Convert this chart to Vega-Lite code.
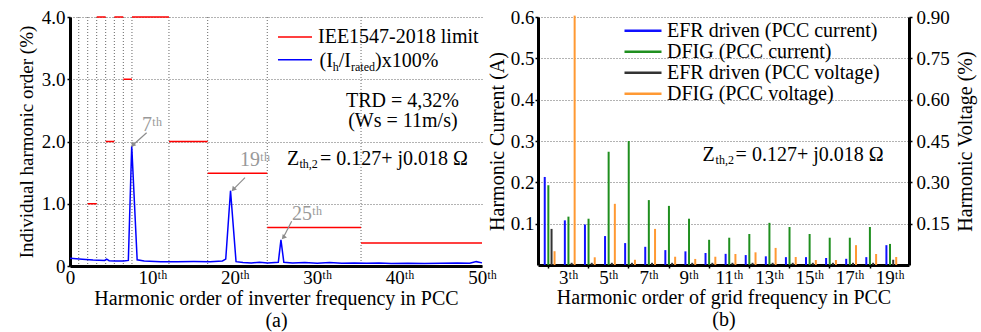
{
  "$schema": "https://vega.github.io/schema/vega-lite/v6.json",
  "background": "white",
  "padding": {"left": 16, "top": 8, "right": 4, "bottom": 2},
  "bounds": "flush",
  "spacing": 56,
  "config": {
    "font": "Liberation Serif",
    "view": {"stroke": null},
    "axis": {
      "labelFont": "Liberation Serif", "titleFont": "Liberation Serif",
      "labelFontSize": 19, "titleFontSize": 20, "titleFontWeight": "normal",
      "labelColor": "black", "titleColor": "black",
      "domainColor": "black", "domainWidth": 3,
      "tickColor": "black", "tickWidth": 1.5,
      "gridColor": "#666", "gridDash": [1, 2], "gridWidth": 1,
      "labelFlush": false, "labelOverlap": false
    },
    "text": {"font": "Liberation Serif"}
  },
  "datasets": {
    "vgrid": [{"x": 1.06}, {"x": 2.15}, {"x": 3.24}, {"x": 4.33}, {"x": 5.38}, {"x": 6.47}, {"x": 7.52}, {"x": 12.01}, {"x": 16.71}, {"x": 23.94}, {"x": 35.32}],
    "limits": [
      {"x": 2.15, "x2": 3.24, "y": 1.0},
      {"x": 3.24, "x2": 4.33, "y": 4.0},
      {"x": 4.33, "x2": 5.38, "y": 2.0},
      {"x": 5.38, "x2": 6.47, "y": 4.0},
      {"x": 6.47, "x2": 7.52, "y": 3.0},
      {"x": 7.52, "x2": 12.01, "y": 4.0},
      {"x": 12.01, "x2": 16.71, "y": 2.0},
      {"x": 16.71, "x2": 23.94, "y": 1.49},
      {"x": 23.94, "x2": 35.32, "y": 0.62},
      {"x": 35.32, "x2": 50, "y": 0.37}
    ],
    "ih": [
      {"x": 0, "y": 0.124}, {"x": 1.5, "y": 0.11}, {"x": 2.8, "y": 0.097}, {"x": 4.2, "y": 0.09}, {"x": 4.45, "y": 0.11}, {"x": 4.75, "y": 0.085},
      {"x": 5.5, "y": 0.08}, {"x": 6.5, "y": 0.08}, {"x": 7.08, "y": 0.09}, {"x": 7.49, "y": 1.93}, {"x": 8.15, "y": 0.1},
      {"x": 9, "y": 0.08}, {"x": 11, "y": 0.07}, {"x": 13, "y": 0.07}, {"x": 15, "y": 0.072}, {"x": 17, "y": 0.07}, {"x": 18.5, "y": 0.08},
      {"x": 18.9, "y": 0.11}, {"x": 19.48, "y": 1.21}, {"x": 20.15, "y": 0.07}, {"x": 21, "y": 0.055}, {"x": 22, "y": 0.05}, {"x": 23, "y": 0.06},
      {"x": 24, "y": 0.05}, {"x": 25.28, "y": 0.06}, {"x": 25.6, "y": 0.42}, {"x": 25.95, "y": 0.06}, {"x": 27, "y": 0.05}, {"x": 28.5, "y": 0.055},
      {"x": 30, "y": 0.045}, {"x": 31.5, "y": 0.055}, {"x": 33, "y": 0.045}, {"x": 34.5, "y": 0.05}, {"x": 36, "y": 0.045}, {"x": 37.5, "y": 0.05},
      {"x": 39, "y": 0.04}, {"x": 41, "y": 0.045}, {"x": 43, "y": 0.04}, {"x": 45, "y": 0.045}, {"x": 47, "y": 0.05}, {"x": 48.5, "y": 0.045},
      {"x": 49.3, "y": 0.07}, {"x": 50, "y": 0.05}
    ],
    "arrows": [
      {"x": 9.3, "y": 2.14, "x2": 7.61, "y2": 1.94},
      {"x": 21.24, "y": 1.42, "x2": 19.82, "y2": 1.23},
      {"x": 26.9, "y": 0.72, "x2": 25.89, "y2": 0.457}
    ],
    "heads": [
      {"x": 7.61, "y": 1.94},
      {"x": 19.82, "y": 1.23},
      {"x": 25.89, "y": 0.457}
    ],
    "peaks": [
      {"x": 8.74, "y": 2.26, "t": "7ᵗʰ"},
      {"x": 20.63, "y": 1.71, "t": "19ᵗʰ"},
      {"x": 26.94, "y": 0.83, "t": "25ᵗʰ"}
    ],
    "trd": [
      {"x": 40.35, "y": 2.55, "t": "TRD = 4,32%"},
      {"x": 40.4, "y": 2.23, "t": "(Ws = 11m/s)"}
    ],
    "harm": [
      {"h": 2, "s": "EFR driven (PCC current)", "v": 0.213}, {"h": 3, "s": "EFR driven (PCC current)", "v": 0.108},
      {"h": 4, "s": "EFR driven (PCC current)", "v": 0.098}, {"h": 5, "s": "EFR driven (PCC current)", "v": 0.07},
      {"h": 6, "s": "EFR driven (PCC current)", "v": 0.053}, {"h": 7, "s": "EFR driven (PCC current)", "v": 0.044},
      {"h": 8, "s": "EFR driven (PCC current)", "v": 0.036}, {"h": 9, "s": "EFR driven (PCC current)", "v": 0.033},
      {"h": 10, "s": "EFR driven (PCC current)", "v": 0.029}, {"h": 11, "s": "EFR driven (PCC current)", "v": 0.027},
      {"h": 12, "s": "EFR driven (PCC current)", "v": 0.024}, {"h": 13, "s": "EFR driven (PCC current)", "v": 0.021},
      {"h": 14, "s": "EFR driven (PCC current)", "v": 0.019}, {"h": 15, "s": "EFR driven (PCC current)", "v": 0.019},
      {"h": 16, "s": "EFR driven (PCC current)", "v": 0.017}, {"h": 17, "s": "EFR driven (PCC current)", "v": 0.015},
      {"h": 18, "s": "EFR driven (PCC current)", "v": 0.019}, {"h": 19, "s": "EFR driven (PCC current)", "v": 0.048},
      {"h": 2, "s": "DFIG (PCC current)", "v": 0.193}, {"h": 3, "s": "DFIG (PCC current)", "v": 0.117},
      {"h": 4, "s": "DFIG (PCC current)", "v": 0.112}, {"h": 5, "s": "DFIG (PCC current)", "v": 0.274},
      {"h": 6, "s": "DFIG (PCC current)", "v": 0.3}, {"h": 7, "s": "DFIG (PCC current)", "v": 0.157},
      {"h": 8, "s": "DFIG (PCC current)", "v": 0.143}, {"h": 9, "s": "DFIG (PCC current)", "v": 0.112},
      {"h": 10, "s": "DFIG (PCC current)", "v": 0.061}, {"h": 11, "s": "DFIG (PCC current)", "v": 0.066},
      {"h": 12, "s": "DFIG (PCC current)", "v": 0.075}, {"h": 13, "s": "DFIG (PCC current)", "v": 0.102},
      {"h": 14, "s": "DFIG (PCC current)", "v": 0.092}, {"h": 15, "s": "DFIG (PCC current)", "v": 0.075},
      {"h": 16, "s": "DFIG (PCC current)", "v": 0.066}, {"h": 17, "s": "DFIG (PCC current)", "v": 0.066},
      {"h": 18, "s": "DFIG (PCC current)", "v": 0.092}, {"h": 19, "s": "DFIG (PCC current)", "v": 0.051},
      {"h": 2, "s": "EFR driven (PCC voltage)", "v": 0.131}, {"h": 3, "s": "EFR driven (PCC voltage)", "v": 0.008},
      {"h": 4, "s": "EFR driven (PCC voltage)", "v": 0.008}, {"h": 5, "s": "EFR driven (PCC voltage)", "v": 0.008},
      {"h": 6, "s": "EFR driven (PCC voltage)", "v": 0.008}, {"h": 7, "s": "EFR driven (PCC voltage)", "v": 0.008},
      {"h": 8, "s": "EFR driven (PCC voltage)", "v": 0.008}, {"h": 9, "s": "EFR driven (PCC voltage)", "v": 0.008},
      {"h": 10, "s": "EFR driven (PCC voltage)", "v": 0.008}, {"h": 11, "s": "EFR driven (PCC voltage)", "v": 0.008},
      {"h": 12, "s": "EFR driven (PCC voltage)", "v": 0.008}, {"h": 13, "s": "EFR driven (PCC voltage)", "v": 0.008},
      {"h": 14, "s": "EFR driven (PCC voltage)", "v": 0.008}, {"h": 15, "s": "EFR driven (PCC voltage)", "v": 0.008},
      {"h": 16, "s": "EFR driven (PCC voltage)", "v": 0.008}, {"h": 17, "s": "EFR driven (PCC voltage)", "v": 0.008},
      {"h": 18, "s": "EFR driven (PCC voltage)", "v": 0.008}, {"h": 19, "s": "EFR driven (PCC voltage)", "v": 0.019},
      {"h": 2, "s": "DFIG (PCC voltage)", "v": 0.05}, {"h": 3, "s": "DFIG (PCC voltage)", "v": 0.905},
      {"h": 4, "s": "DFIG (PCC voltage)", "v": 0.028}, {"h": 5, "s": "DFIG (PCC voltage)", "v": 0.222},
      {"h": 6, "s": "DFIG (PCC voltage)", "v": 0.019}, {"h": 7, "s": "DFIG (PCC voltage)", "v": 0.131},
      {"h": 8, "s": "DFIG (PCC voltage)", "v": 0.03}, {"h": 9, "s": "DFIG (PCC voltage)", "v": 0.022},
      {"h": 10, "s": "DFIG (PCC voltage)", "v": 0.03}, {"h": 11, "s": "DFIG (PCC voltage)", "v": 0.04},
      {"h": 12, "s": "DFIG (PCC voltage)", "v": 0.046}, {"h": 13, "s": "DFIG (PCC voltage)", "v": 0.062},
      {"h": 14, "s": "DFIG (PCC voltage)", "v": 0.029}, {"h": 15, "s": "DFIG (PCC voltage)", "v": 0.018},
      {"h": 16, "s": "DFIG (PCC voltage)", "v": 0.018}, {"h": 17, "s": "DFIG (PCC voltage)", "v": 0.072},
      {"h": 18, "s": "DFIG (PCC voltage)", "v": 0.04}, {"h": 19, "s": "DFIG (PCC voltage)", "v": 0.029}
    ]
  },
  "hconcat": [
    {
      "width": 412,
      "height": 249,
      "layer": [
        {
          "data": {"name": "vgrid"},
          "mark": {"type": "rule", "color": "#666", "strokeDash": [1, 2], "strokeWidth": 1},
          "encoding": {"x": {"field": "x", "type": "quantitative", "scale": {"domain": [0, 50], "nice": false}}}
        },
        {
          "encoding": {
            "x": {"field": "x", "type": "quantitative", "scale": {"domain": [0, 50], "nice": false},
              "axis": {"title": ["Harmonic order of inverter frequency in PCC", "(a)"], "values": [0, 10, 20, 30, 40, 50],
                "labelExpr": "datum.value == 0 ? '0' : datum.value + 'ᵗʰ'", "grid": false, "ticks": false, "tickSize": 0,
                "labelPadding": 2, "titleY": 38, "titleBaseline": "alphabetic", "titleLineHeight": 22}},
            "y": {"field": "y", "type": "quantitative", "scale": {"domain": [0, 4], "nice": false},
              "axis": {"title": "Individual harmonic order (%)", "values": [0, 1, 2, 3, 4],
                "labelExpr": "datum.value == 0 ? '0' : format(datum.value, '.1f')", "grid": true, "tickSize": 3,
                "labelPadding": 2, "titleX": -44, "titleBaseline": "middle", "titleFontSize": 19}}
          },
          "layer": [
            {
              "data": {"name": "limits"},
              "mark": {"type": "rule", "color": "#ff0000", "strokeWidth": 1.5},
              "encoding": {"x2": {"field": "x2"}}
            },
            {
              "data": {"name": "ih"},
              "mark": {"type": "line", "color": "#0000ff", "strokeWidth": 1.5},
              "encoding": {}
            },
            {
              "data": {"name": "arrows"},
              "mark": {"type": "rule", "color": "#8c8c8c", "strokeWidth": 1.2},
              "encoding": {"x2": {"field": "x2"}, "y2": {"field": "y2"}}
            },
            {
              "data": {"name": "heads"},
              "mark": {"type": "point", "shape": "triangle-up", "filled": true, "color": "#8c8c8c", "size": 30, "angle": 220, "opacity": 1}
            },
            {
              "data": {"name": "peaks"},
              "mark": {"type": "text", "align": "left", "baseline": "middle", "fontSize": 20, "color": "#999999"},
              "encoding": {"text": {"field": "t"}}
            },
            {
              "data": {"name": "trd"},
              "mark": {"type": "text", "align": "center", "baseline": "alphabetic", "fontSize": 20, "color": "black"},
              "encoding": {"text": {"field": "t"}}
            },
            {
              "data": {"values": [{"x": 26.33, "y": 1.62}]},
              "mark": {"type": "text", "text": "Z", "align": "left", "baseline": "alphabetic", "fontSize": 20, "color": "black"}
            },
            {
              "data": {"values": [{"x": 26.33, "y": 1.62}]},
              "mark": {"type": "text", "text": "th,2", "align": "left", "baseline": "alphabetic", "fontSize": 12, "dx": 12.5, "dy": 3, "color": "black"}
            },
            {
              "data": {"values": [{"x": 26.33, "y": 1.62}]},
              "mark": {"type": "text", "text": "= 0.127+ j0.018 Ω", "align": "left", "baseline": "alphabetic", "fontSize": 20, "dx": 33, "color": "black"}
            },
            {
              "data": {"values": [{"x": 25.24, "x2": 29.37, "y": 3.677}]},
              "mark": {"type": "rule", "color": "#ff0000", "strokeWidth": 1.5},
              "encoding": {"x2": {"field": "x2"}}
            },
            {
              "data": {"values": [{"x": 25.24, "x2": 29.37, "y": 3.315}]},
              "mark": {"type": "rule", "color": "#0000ff", "strokeWidth": 1.5},
              "encoding": {"x2": {"field": "x2"}}
            },
            {
              "data": {"values": [{"x": 30.1, "y": 3.677}]},
              "mark": {"type": "text", "text": "IEE1547-2018 limit", "align": "left", "baseline": "middle", "fontSize": 20, "color": "black"}
            },
            {
              "data": {"values": [{"x": 30.28, "y": 3.3}]},
              "mark": {"type": "text", "text": "(I", "align": "left", "baseline": "middle", "fontSize": 20, "color": "black"}
            },
            {
              "data": {"values": [{"x": 30.28, "y": 3.3}]},
              "mark": {"type": "text", "text": "h", "align": "left", "baseline": "middle", "fontSize": 12, "dx": 13.3, "dy": 6, "color": "black"}
            },
            {
              "data": {"values": [{"x": 30.28, "y": 3.3}]},
              "mark": {"type": "text", "text": "/I", "align": "left", "baseline": "middle", "fontSize": 20, "dx": 19.3, "color": "black"}
            },
            {
              "data": {"values": [{"x": 30.28, "y": 3.3}]},
              "mark": {"type": "text", "text": "rated", "align": "left", "baseline": "middle", "fontSize": 12, "dx": 31.5, "dy": 6, "color": "black"}
            },
            {
              "data": {"values": [{"x": 30.28, "y": 3.3}]},
              "mark": {"type": "text", "text": ")x100%", "align": "left", "baseline": "middle", "fontSize": 20, "dx": 55.5, "color": "black"}
            }
          ]
        }
      ]
    },
    {
      "width": 371,
      "height": 248,
      "resolve": {"scale": {"y": "independent"}, "axis": {"y": "independent"}},
      "encoding": {
        "x": {"field": "h", "type": "quantitative", "scale": {"domain": [1.5, 19.96], "nice": false, "zero": false},
          "axis": {"title": ["Harmonic order of grid frequency in PCC", "(b)"], "values": [2, 3, 4, 5, 6, 7, 8, 9, 10, 11, 12, 13, 14, 15, 16, 17, 18, 19],
            "labelExpr": "datum.value % 2 == 1 ? datum.value + 'ᵗʰ' : ''", "grid": false, "tickSize": 3,
            "tickOpacity": {"condition": {"test": "datum.value % 2 == 0", "value": 1}, "value": 0},
            "labelPadding": 0, "titleY": 38, "titleBaseline": "alphabetic", "titleLineHeight": 22}},
        "color": {"field": "s", "type": "nominal",
          "scale": {"domain": ["EFR driven (PCC current)", "DFIG (PCC current)", "EFR driven (PCC voltage)", "DFIG (PCC voltage)"],
            "range": ["#1010ff", "#1f8f1f", "#333333", "#ff9933"]},
          "legend": {"title": null, "orient": "none", "legendX": 553, "legendY": 4, "symbolType": "stroke", "symbolSize": 1369,
            "symbolStrokeWidth": 2.5, "labelFontSize": 20, "labelFont": "Liberation Serif", "labelColor": "black", "clipHeight": 19.5,
            "rowPadding": 0, "labelOffset": 4, "padding": 0, "labelLimit": 400}}
      },
      "layer": [
        {
          "data": {"name": "harm"},
          "transform": [{"filter": "datum.s == 'EFR driven (PCC current)'"}],
          "mark": {"type": "rule", "strokeWidth": 2, "xOffset": -3.3},
          "encoding": {
            "y": {"field": "v", "type": "quantitative", "scale": {"domain": [0, 0.6], "nice": false},
              "axis": {"title": "Harmonic Current (A)", "values": [0.1, 0.2, 0.3, 0.4, 0.5, 0.6], "format": ".1f", "grid": true,
                "tickSize": 3, "labelPadding": 1, "titleX": -41, "titleBaseline": "middle"}},
            "y2": {"datum": 0}
          }
        },
        {
          "data": {"name": "harm"},
          "transform": [{"filter": "datum.s == 'DFIG (PCC current)'"}],
          "mark": {"type": "rule", "strokeWidth": 2, "xOffset": 0.3},
          "encoding": {
            "y": {"field": "v", "type": "quantitative", "scale": {"domain": [0, 0.6], "nice": false}, "axis": null},
            "y2": {"datum": 0}
          }
        },
        {
          "data": {"name": "harm"},
          "transform": [{"filter": "datum.s == 'EFR driven (PCC voltage)'"}],
          "mark": {"type": "rule", "strokeWidth": 2, "xOffset": 3.5},
          "encoding": {
            "y": {"field": "v", "type": "quantitative", "scale": {"domain": [0, 0.9], "nice": false}, "axis": null},
            "y2": {"datum": 0}
          }
        },
        {
          "data": {"name": "harm"},
          "transform": [{"filter": "datum.s == 'DFIG (PCC voltage)'"}],
          "mark": {"type": "rule", "strokeWidth": 2, "xOffset": 6.5},
          "encoding": {
            "y": {"field": "v", "type": "quantitative", "scale": {"domain": [0, 0.9], "nice": false},
              "axis": {"orient": "right", "title": "Harmonic Voltage (%)", "values": [0.15, 0.3, 0.45, 0.6, 0.75, 0.9], "format": ".2f",
                "grid": false, "tickSize": 3, "labelPadding": 4, "titleX": 56, "titleAngle": 270, "titleBaseline": "middle"}},
            "y2": {"datum": 0}
          }
        },
        {
          "data": {"values": [{"h": 9.69, "v": 0.252}]},
          "mark": {"type": "text", "text": "Z", "align": "left", "baseline": "alphabetic", "fontSize": 20},
          "encoding": {
            "y": {"field": "v", "type": "quantitative", "scale": {"domain": [0, 0.6], "nice": false}, "axis": null},
            "color": {"value": "black"}
          }
        },
        {
          "data": {"values": [{"h": 9.69, "v": 0.252}]},
          "mark": {"type": "text", "text": "th,2", "align": "left", "baseline": "alphabetic", "fontSize": 12, "dx": 13, "dy": 3},
          "encoding": {
            "y": {"field": "v", "type": "quantitative", "scale": {"domain": [0, 0.6], "nice": false}, "axis": null},
            "color": {"value": "black"}
          }
        },
        {
          "data": {"values": [{"h": 9.69, "v": 0.252}]},
          "mark": {"type": "text", "text": "= 0.127+ j0.018 Ω", "align": "left", "baseline": "alphabetic", "fontSize": 20, "dx": 33},
          "encoding": {
            "y": {"field": "v", "type": "quantitative", "scale": {"domain": [0, 0.6], "nice": false}, "axis": null},
            "color": {"value": "black"}
          }
        }
      ]
    }
  ]
}
